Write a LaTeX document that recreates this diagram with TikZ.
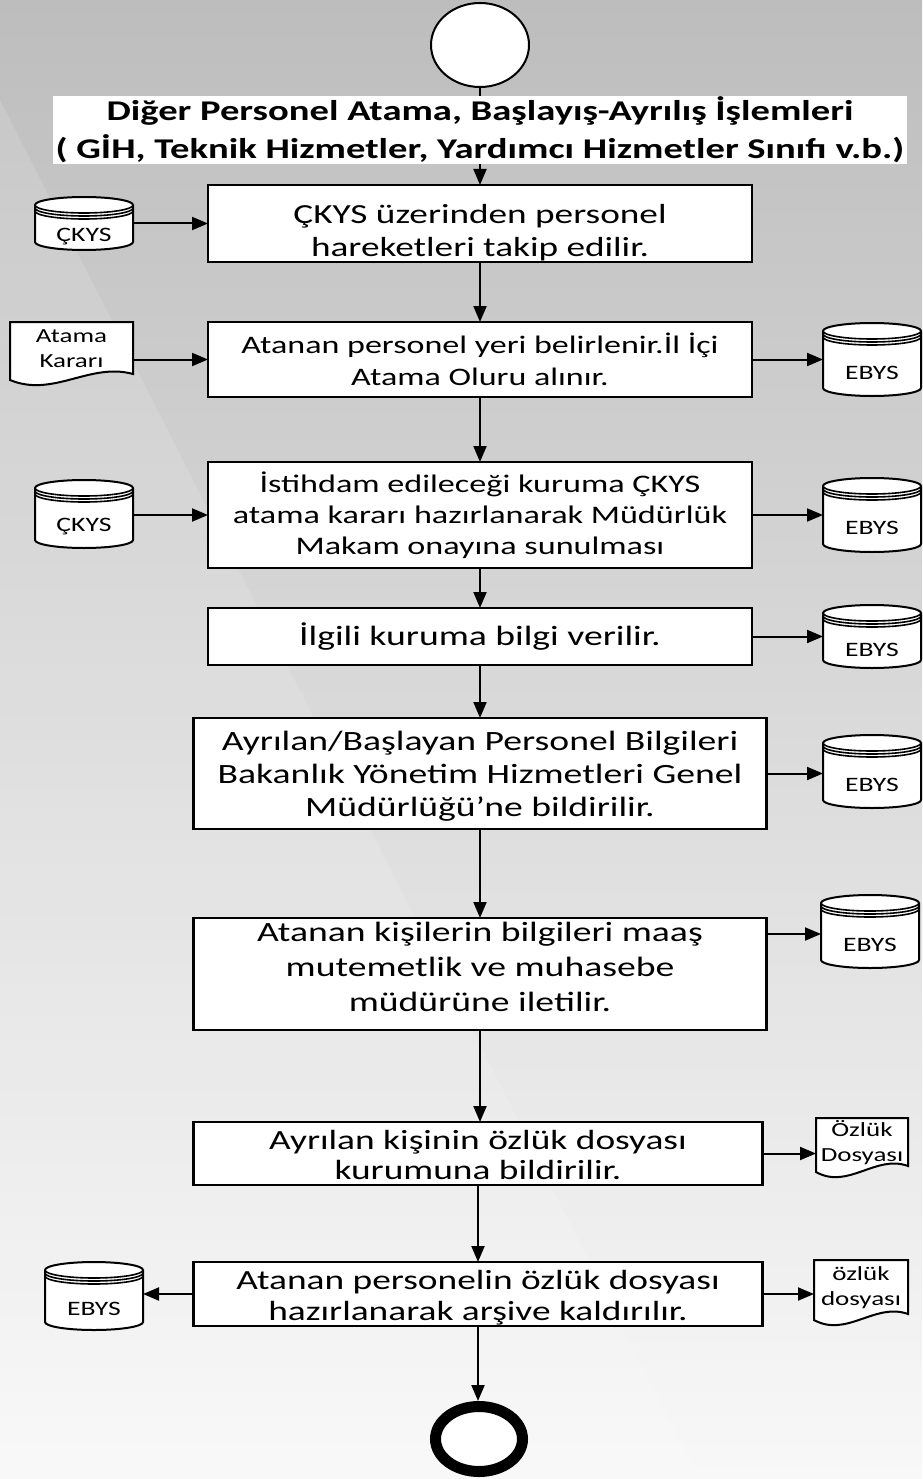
\documentclass[tikz,border=0pt]{standalone}
\usepackage{fontspec}
\setmainfont{Carlito}[FakeStretch=1.35]
\usetikzlibrary{arrows.meta,calc,shapes.geometric}
\pgfdeclarelayer{bg}
\pgfdeclarelayer{shp}
\pgfsetlayers{bg,shp,main}
\definecolor{bgtop}{HTML}{BDBDBD}
\definecolor{bgbot}{HTML}{F8F8F8}
\tikzset{
  ln/.style={line width=2pt},
  arr/.style={line width=2pt, -{Triangle[length=16pt,width=13pt]}},
  proc/.style={draw, line width=2.2pt, fill=white, rectangle, align=center, inner sep=0pt, outer sep=0pt},
  dbn/.style={rectangle, minimum width=98pt, inner sep=0pt, outer sep=0pt, align=center, font=\fontsize{20.5}{24}\selectfont},
  docn/.style={rectangle, inner sep=0pt, outer sep=0pt, align=center, font=\fontsize{20}{25}\selectfont},
}
\newcommand\dbdraw[1]{%
  \draw[line width=2pt, fill=white] ([yshift=18pt]#1.north west) -- ([yshift=8pt]#1.south west)
    arc[start angle=180,end angle=360,x radius=49pt,y radius=8pt] -- ([yshift=18pt]#1.north east)
    arc[start angle=0,end angle=180,x radius=49pt,y radius=8pt] -- cycle;
  \foreach \s in {18,15,12}{\draw[line width=1.6pt] ([yshift=\s pt]#1.north west) arc[start angle=180,end angle=360,x radius=49pt,y radius=8pt];}%
}
\newcommand\docdraw[1]{%
  \draw[line width=2pt, fill=white] ($(#1.south west)+(0,4)$) -- (#1.north west) -- (#1.north east) -- ($(#1.south east)+(0,-2)$)
    .. controls ($(#1.south west)!0.65!(#1.south east)+(0,-14)$) and ($(#1.south west)!0.35!(#1.south east)+(0,22)$) .. ($(#1.south west)+(0,4)$) -- cycle;%
}
\newcommand\topgap[1]{\rule{0pt}{#1}}
\newcommand\botgap[1]{\rule[-#1]{0pt}{0pt}}
\begin{document}
\begin{tikzpicture}[x=1pt,y=-1pt]
\useasboundingbox (0,0) rectangle (922,1479);
\begin{pgfonlayer}{bg}
  \shade[top color=bgtop, bottom color=bgbot] (0,0) rectangle (922,1479);
  \fill[white, opacity=0.13] (0,100) -- (700,1479) -- (0,1479) -- cycle;
\end{pgfonlayer}

% start / end
\node[ellipse, draw, line width=2pt, fill=white, minimum width=98pt, minimum height=84pt, inner sep=0pt] (s) at (480,45) {};
\node[fill=white, inner xsep=3pt, inner ysep=1pt, align=center, font=\bfseries\fontsize{28.6}{38}\selectfont] (t) at (480,130)
  {Diğer Personel Atama, Başlayış-Ayrılış İşlemleri\\( GİH, Teknik Hizmetler, Yardımcı Hizmetler Sınıfı v.b.)};

% process boxes
\node[proc, minimum width=544pt, minimum height=77pt, font=\fontsize{27.6}{33}\selectfont] (b1) at (480,223.5)
  {\topgap{37pt}ÇKYS üzerinden personel\\hareketleri takip edilir.};
\node[proc, minimum width=544pt, minimum height=75pt, font=\fontsize{25.2}{32}\selectfont] (b2) at (480,359.5)
  {Atanan personel yeri belirlenir.İl İçi\\Atama Oluru alınır.};
\node[proc, minimum width=544pt, minimum height=106pt, font=\fontsize{25.3}{31}\selectfont] (b3) at (480,515)
  {\topgap{22pt}İstihdam edileceği kuruma ÇKYS\\atama kararı hazırlanarak Müdürlük\\Makam onayına sunulması};
\node[proc, minimum width=544pt, minimum height=57pt, font=\fontsize{27.9}{33}\selectfont] (b4) at (480,636.5)
  {İlgili kuruma bilgi verilir.};
\node[proc, minimum width=573pt, minimum height=111pt, font=\fontsize{27.9}{33}\selectfont] (b5) at (480,773.5)
  {\topgap{25pt}Ayrılan/Başlayan Personel Bilgileri\\Bakanlık Yönetim Hizmetleri Genel\\Müdürlüğü’ne bildirilir.};
\node[proc, minimum width=573pt, minimum height=112pt, font=\fontsize{27.9}{35}\selectfont] (b6) at (480,974)
  {Atanan kişilerin bilgileri maaş\\mutemetlik ve muhasebe\\müdürüne iletilir.\botgap{15pt}};
\node[proc, minimum width=569pt, minimum height=63pt, font=\fontsize{27.7}{30}\selectfont] (b7) at (478,1153.5)
  {\topgap{23pt}Ayrılan kişinin özlük dosyası\\kurumuna bildirilir.};
\node[proc, minimum width=569pt, minimum height=64pt, font=\fontsize{27.7}{31}\selectfont] (b8) at (478,1294)
  {\topgap{27pt}Atanan personelin özlük dosyası\\hazırlanarak arşive kaldırılır.};

\node[ellipse, draw, line width=11pt, fill=white, minimum width=87pt, minimum height=65pt, inner sep=0pt] (e) at (479,1439) {};

% side data stores
\node[dbn, minimum height=27pt] (c1) at (84,236.5) {ÇKYS};
\node[dbn, minimum height=42pt] (c2) at (84,527) {ÇKYS};
\node[dbn, minimum height=47pt] (e2) at (872,372.5) {EBYS};
\node[dbn, minimum height=48pt] (e3) at (872,528) {EBYS};
\node[dbn, minimum height=37pt] (e4) at (872,649.5) {EBYS};
\node[dbn, minimum height=47pt] (e5) at (872,784.5) {EBYS};
\node[dbn, minimum height=47pt] (e6) at (870,944.5) {EBYS};
\node[dbn, minimum height=42pt] (e8) at (94,1309) {EBYS};

\node[docn, minimum width=123pt, minimum height=54pt] (d1) at (71.5,349) {Atama\\Kararı};
\node[docn, minimum width=92pt, minimum height=50pt] (d2) at (862,1143) {Özlük\\Dosyası};
\node[docn, minimum width=94pt, minimum height=56pt] (d3) at (861,1288) {özlük\\dosyası};

\begin{pgfonlayer}{shp}
  \dbdraw{c1}\dbdraw{c2}\dbdraw{e2}\dbdraw{e3}\dbdraw{e4}\dbdraw{e5}\dbdraw{e6}\dbdraw{e8}
  \docdraw{d1}\docdraw{d2}\docdraw{d3}
\end{pgfonlayer}

\coordinate (e6in) at ($(e6.north west)+(0,13)$);

% main flow
\draw[ln] (s.south) -- (t.north);
\draw[arr] (t.south) -- (b1.north);
\draw[arr] (b1.south) -- (b2.north);
\draw[arr] (b2.south) -- (b3.north);
\draw[arr] (b3.south) -- (b4.north);
\draw[arr] (b4.south) -- (b5.north);
\draw[arr] (b5.south) -- (b6.north);
\draw[arr] (b6.south) -- (b6.south |- b7.north);
\draw[arr] (b7.south) -- (b8.north);
\draw[arr] (b8.south) -- (b8.south |- e.north);

% side connectors
\draw[arr] (c1.east |- b1.west) -- (b1.west);
\draw[arr] (d1.east |- b2.west) -- (b2.west);
\draw[arr] (b2.east) -- (b2.east -| e2.west);
\draw[arr] (c2.east |- b3.west) -- (b3.west);
\draw[arr] (b3.east) -- (b3.east -| e3.west);
\draw[arr] (b4.east) -- (b4.east -| e4.west);
\draw[arr] (b5.east) -- (b5.east -| e5.west);
\draw[arr] (b6.east |- e6in) -- (e6in);
\draw[arr] (b7.east) -- (b7.east -| d2.west);
\draw[arr] (b8.west) -- (b8.west -| e8.east);
\draw[arr] (b8.east) -- (b8.east -| d3.west);
\end{tikzpicture}
\end{document}
